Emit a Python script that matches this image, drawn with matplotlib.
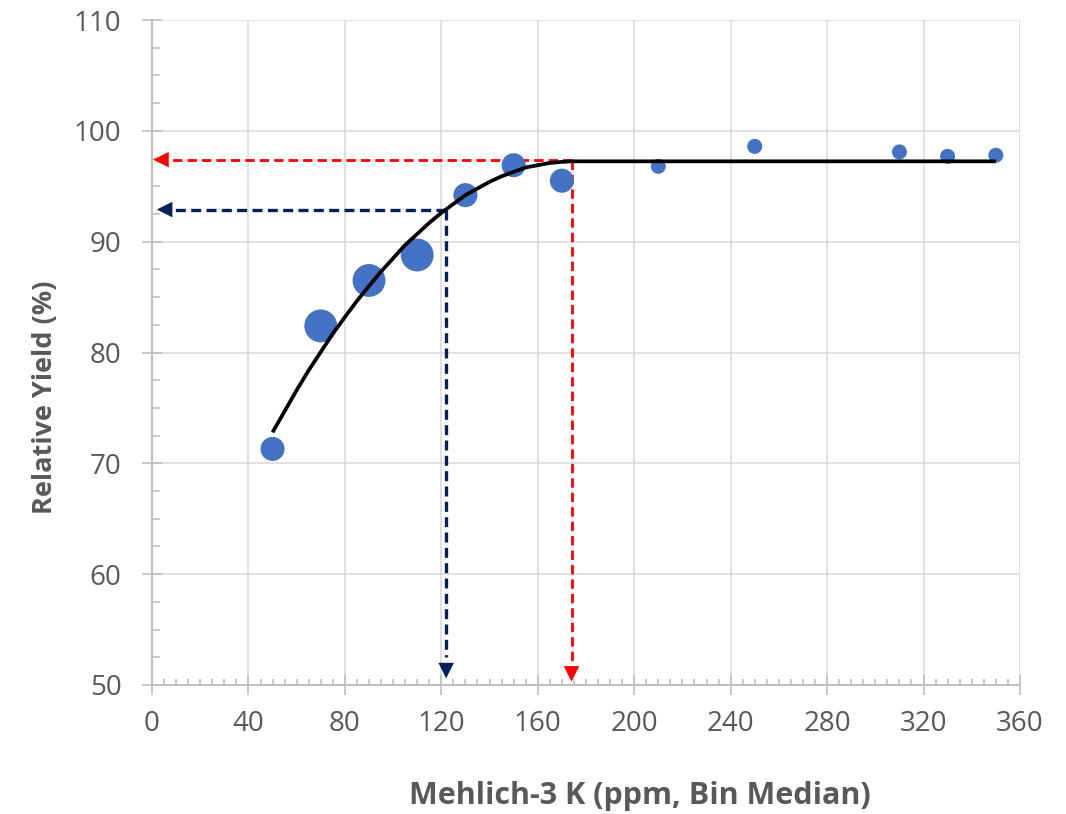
import matplotlib
matplotlib.use("Agg")
import matplotlib.pyplot as plt
from matplotlib.ticker import MultipleLocator

# bin medians (ppm) and mean relative yield per bin
k_ppm = [50, 70, 90, 110, 130, 150, 170, 210, 250, 310, 330, 350]
rel_yield = [71.3, 82.4, 86.5, 88.8, 94.2, 96.9, 95.5, 96.8, 98.6, 98.1, 97.7, 97.8]
# bubble area (relative number of obs in bin)
bubble = [300, 560, 560, 560, 300, 300, 300, 117, 117, 117, 117, 117]

# quadratic-plateau fit
fit_x = [50, 55, 60, 65, 70, 75, 80, 85, 90, 95, 100, 105, 110, 115, 120, 125,
         130, 135, 140, 145, 150, 155, 160, 165, 170, 174, 350]
fit_y = [72.8, 74.7, 76.6, 78.4, 80.05, 81.7, 83.2, 84.65, 86.0, 87.3, 88.5, 89.7,
         90.7, 91.7, 92.6, 93.4, 94.2, 94.8, 95.4, 95.9, 96.3, 96.7, 96.9, 97.1,
         97.2, 97.25, 97.25]

# critical levels
red_x, red_y = 174, 97.4
blue_x, blue_y = 122, 92.9

grey = "#595959"
plt.rcParams['font.family'] = ['Open Sans', 'DejaVu Sans']

fig = plt.figure(figsize=(10.66, 8.14), dpi=100)
ax = fig.add_axes([0.1426, 0.1585, 0.8142, 0.8169])

ax.grid(True, which='major', color='#d9d9d9', lw=1.1, zorder=0)
ax.set_axisbelow(True)

# dashed guide lines
ax.plot([red_x, 6], [red_y, red_y], color='red', lw=2, ls=(0, (3.4, 1.8)), zorder=2)
ax.plot([red_x, red_x], [red_y, 52], color='red', lw=2, ls=(0, (3.4, 1.8)), zorder=2)
ax.plot([blue_x, 7], [blue_y, blue_y], color='#002060', lw=2.4, ls=(0, (3, 1.6)), zorder=2)
ax.plot([blue_x, blue_x], [blue_y, 52.5], color='#002060', lw=2.4, ls=(0, (3, 1.6)), zorder=2)
arrow = dict(arrowstyle='-|>', lw=0, mutation_scale=28, shrinkA=0, shrinkB=0)
ax.annotate('', xy=(0.5, red_y), xytext=(9, red_y), arrowprops=dict(arrow, color='red'), zorder=3)
ax.annotate('', xy=(red_x, 50.3), xytext=(red_x, 54), arrowprops=dict(arrow, color='red'), zorder=3)
ax.annotate('', xy=(2, blue_y), xytext=(10, blue_y), arrowprops=dict(arrow, color='#002060'), zorder=3)
ax.annotate('', xy=(blue_x, 50.6), xytext=(blue_x, 54.5), arrowprops=dict(arrow, color='#002060'), zorder=3)

ax.scatter(k_ppm, rel_yield, s=bubble, color='#4472C4', edgecolors='none', zorder=4)
ax.plot(fit_x, fit_y, color='black', lw=2.7, solid_capstyle='butt', zorder=5)

ax.set_xlim(0, 360)
ax.set_ylim(50, 110)
ax.xaxis.set_major_locator(MultipleLocator(40))
ax.xaxis.set_minor_locator(MultipleLocator(5))
ax.yaxis.set_major_locator(MultipleLocator(10))
ax.yaxis.set_minor_locator(MultipleLocator(2.5))

for s in ['top', 'right']:
    ax.spines[s].set_visible(False)
for s in ['left', 'bottom']:
    ax.spines[s].set_color('#bfbfbf')
    ax.spines[s].set_linewidth(1.5)

ax.tick_params(axis='y', which='major', direction='inout', length=14, width=1.2,
               color='#bfbfbf', labelcolor=grey, labelsize=20, pad=15)
ax.tick_params(axis='y', which='minor', direction='in', length=5.5, width=1.2, color='#bfbfbf')
ax.tick_params(axis='x', which='major', direction='inout', length=14, width=1.2,
               color='#bfbfbf', labelcolor=grey, labelsize=20, pad=11)
ax.tick_params(axis='x', which='minor', direction='in', length=4.5, width=1.2, color='#bfbfbf')

ax.set_xlabel('Mehlich-3 K (ppm, Bin Median)', fontsize=22, fontweight='bold', color=grey)
ax.set_ylabel('Relative Yield (%)', fontsize=19.5, fontweight='bold', color=grey)
ax.xaxis.set_label_coords(0.562, -0.145)
ax.yaxis.set_label_coords(-0.108, 0.433)

fig.savefig('out.png', dpi=100)
